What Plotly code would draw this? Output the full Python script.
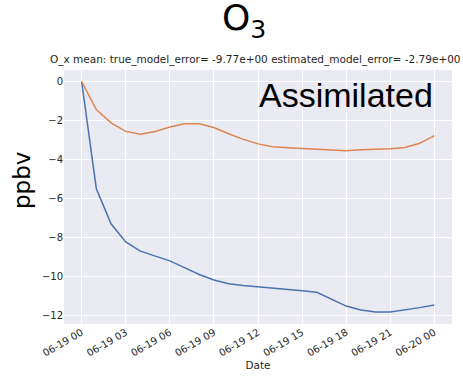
import pandas as pd
import plotly.graph_objects as go

hours = pd.date_range("2021-06-19 00:00", periods=25, freq="h")
true_model_error = [0, -5.5, -7.3, -8.23, -8.7, -8.95, -9.2, -9.55, -9.9, -10.18,
                    -10.37, -10.46, -10.52, -10.58, -10.65, -10.73, -10.81, -11.15,
                    -11.52, -11.72, -11.83, -11.82, -11.72, -11.6, -11.47]
estimated_model_error = [0, -1.44, -2.12, -2.56, -2.70, -2.57, -2.33, -2.17, -2.17, -2.36,
                         -2.68, -2.97, -3.2, -3.35, -3.40, -3.43, -3.46, -3.50,
                         -3.55, -3.50, -3.48, -3.45, -3.38, -3.17, -2.78]
y_ticks = [0, -2, -4, -6, -8, -10, -12]

fig = go.Figure()
fig.add_trace(go.Scatter(x=hours, y=true_model_error, mode="lines",
                         line=dict(color="#4C72B0", width=1.5), name="true_model_error"))
fig.add_trace(go.Scatter(x=hours, y=estimated_model_error, mode="lines",
                         line=dict(color="#DD8452", width=1.5), name="estimated_model_error"))

font_fam = "DejaVu Sans"
fig.update_layout(
    width=463, height=376,
    margin=dict(l=64, r=11, t=70, b=52),
    paper_bgcolor="white", plot_bgcolor="#EAEAF2",
    showlegend=False,
    font=dict(family=font_fam, size=10, color="#262626"),
    xaxis=dict(
        range=[pd.Timestamp("2021-06-18 22:48"), pd.Timestamp("2021-06-20 01:12")],
        tickformat="%m-%d %H", dtick=3 * 3600 * 1000,
        tick0="2021-06-19 00:00",
        tickangle=-30, showgrid=True, gridcolor="white", gridwidth=1,
        zeroline=False, showline=False, ticks="",
        tickfont=dict(size=10, color="#262626"),
        title=dict(text="Date", font=dict(size=10.5, color="#262626"), standoff=0),
    ),
    yaxis=dict(
        range=[-12.44, 0.59], tickvals=y_ticks,
        showgrid=True, gridcolor="white", gridwidth=1,
        zeroline=False, showline=False, ticks="",
        tickfont=dict(size=10, color="#262626"),
    ),
    annotations=[
        dict(text="ppbv", xref="paper", yref="paper", x=0, y=0.5,
             xshift=-42, yshift=16, textangle=-90, xanchor="center", yanchor="middle",
             showarrow=False, font=dict(size=23, color="black", family=font_fam)),
        dict(text="O<sub>3</sub>", xref="paper", yref="paper", x=0.5, y=1.0,
             yshift=24, xshift=-14, xanchor="center", yanchor="bottom", showarrow=False,
             font=dict(size=36, color="black", family=font_fam)),
        dict(text="O_x mean: true_model_error= -9.77e+00 estimated_model_error= -2.79e+00",
             xref="paper", yref="paper", x=0.5, y=1.0, yshift=2, xshift=-3,
             xanchor="center", yanchor="bottom", showarrow=False,
             font=dict(size=10.5, color="#262626", family=font_fam)),
        dict(text="Assimilated", xref="paper", yref="paper", x=0.955, y=0.985,
             xanchor="right", yanchor="top", showarrow=False,
             font=dict(size=34, color="black", family="Liberation Sans")),
    ],
)

fig.write_html("out.html")
